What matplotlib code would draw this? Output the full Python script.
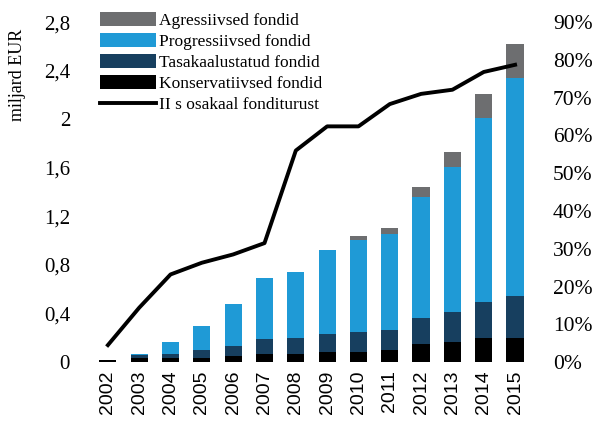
import numpy as np
import matplotlib.pyplot as plt
from matplotlib.ticker import FuncFormatter

years = [str(y) for y in range(2002, 2016)]

# miljard EUR
konserv = [0.02, 0.033, 0.035, 0.035, 0.05, 0.068, 0.068, 0.082, 0.082, 0.099, 0.148, 0.165, 0.198, 0.198]
tasakaal = [0.0, 0.022, 0.035, 0.065, 0.08, 0.119, 0.132, 0.148, 0.165, 0.165, 0.214, 0.247, 0.296, 0.346]
progress = [0.0, 0.015, 0.095, 0.195, 0.35, 0.503, 0.543, 0.69, 0.758, 0.79, 0.998, 1.194, 1.519, 1.798]
agress = [0.0, 0.0, 0.0, 0.0, 0.0, 0.0, 0.0, 0.0, 0.035, 0.05, 0.08, 0.124, 0.191, 0.278]

# II s osakaal fonditurust
osakaal = [0.045, 0.144, 0.232, 0.263, 0.285, 0.315, 0.56, 0.624, 0.624, 0.683, 0.71, 0.721, 0.768, 0.787]

serif = 'Liberation Serif'
c_grey, c_blue, c_dark, c_black = '#6d6e70', '#1f9ad6', '#173f5f', '#000000'

fig = plt.figure(figsize=(5.95, 4.25), dpi=100)
ax = fig.add_axes([0.155, 0.148, 0.737, 0.8])
x = np.arange(len(years))
w = 0.55

b1 = np.array(konserv)
b2 = b1 + np.array(tasakaal)
b3 = b2 + np.array(progress)

h_k = ax.bar(x, konserv, w, color=c_black)
h_t = ax.bar(x, tasakaal, w, bottom=b1, color=c_dark)
h_p = ax.bar(x, progress, w, bottom=b2, color=c_blue)
h_a = ax.bar(x, agress, w, bottom=b3, color=c_grey)

ax.set_xlim(-0.5, len(years) - 0.5)
ax.set_ylim(0, 2.8)
ax.set_yticks(np.arange(0, 2.81, 0.4))
ax.yaxis.set_major_formatter(FuncFormatter(lambda v, p: ('%g' % round(v, 1)).replace('.', ',')))
ax.set_xticks(x)
ax.set_xticklabels(years, rotation=90, fontsize=14, family='Liberation Sans')
ax.set_ylabel('miljard EUR', family=serif, fontsize=13)
ax.yaxis.set_label_coords(-0.152, 0.845)
for lab in ax.get_yticklabels():
    lab.set_family(serif)
    lab.set_fontsize(15)
ax.tick_params(axis='y', length=0, pad=16)
ax.tick_params(axis='x', length=0, pad=6)
for s in ax.spines.values():
    s.set_visible(False)

ax2 = ax.twinx()
h_l, = ax2.plot(x, osakaal, color='black', lw=2.8)
ax2.set_ylim(0, 0.9)
ax2.set_yticks(np.arange(0, 0.91, 0.1))
ax2.yaxis.set_major_formatter(FuncFormatter(lambda v, p: '%d%%' % round(v * 100)))
for lab in ax2.get_yticklabels():
    lab.set_family(serif)
    lab.set_fontsize(15.5)
ax2.tick_params(length=0, pad=16)
for s in ax2.spines.values():
    s.set_visible(False)

leg = ax.legend([h_a, h_p, h_t, h_k, h_l],
                ['Agressiivsed fondid', 'Progressiivsed fondid', 'Tasakaalustatud fondid',
                 'Konservatiivsed fondid', 'II s osakaal fonditurust'],
                loc='upper left', bbox_to_anchor=(-0.005, 1.06), frameon=False,
                prop={'family': serif, 'size': 12.5}, handlelength=3.2, handleheight=0.85,
                handletextpad=0.15, labelspacing=0.24, borderaxespad=0.2)

fig.savefig('out.png', dpi=100)
